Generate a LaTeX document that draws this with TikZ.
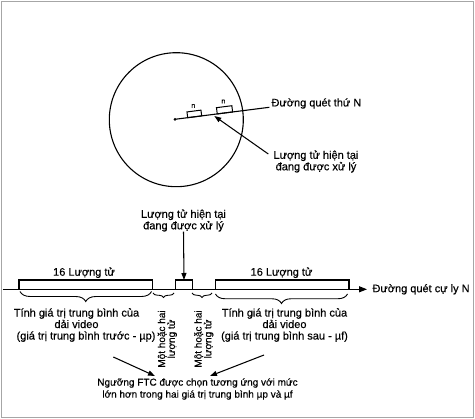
\documentclass[tikz,border=0pt]{standalone}
\usepackage{fontspec}
\setmainfont{Liberation Sans}[FakeBold=0.35]
\usetikzlibrary{arrows.meta,decorations.pathreplacing}
\begin{document}
\begin{tikzpicture}[x=1pt,y=-1pt,
  every node/.style={inner sep=0pt, outer sep=0pt},
  lbl/.style={font=\fontsize{11}{11.5}\selectfont, align=center},
  vlbl/.style={font=\fontsize{10}{9.8}\selectfont, align=center, rotate=90},
  qbox/.style={draw, line width=1.1pt, minimum height=9.3pt, inner sep=0pt},
  arr/.style={line width=1.05pt, -{Triangle[length=7pt,width=5pt]}},
  brc/.style={line width=0.9pt, decorate, decoration={brace, mirror, amplitude=#1}},
  line width=1.1pt]
\useasboundingbox (0,0) rectangle (475,419);
\draw[gray!70, line width=1.2pt] (1.5,1.5) rectangle (473.8,417.8);

% --- circle part ---
\coordinate (cc) at (176.3,119.7);
\draw (cc) circle[radius=67pt];
\coordinate (s0) at (175,119.3);
\coordinate (s1) at (269.3,107.3);
\fill (s0) circle[radius=1.5pt];
\draw (s0) -- (s1);
\node[lbl, anchor=west] (scanlbl) at (271.5,103.5) {Đường quét thứ N};
\begin{scope}[shift={(s0)}, rotate=7.25]
  \draw[line width=1pt] (12.8,0) rectangle (26.9,-5.8);
  \node[font=\fontsize{7}{7}\selectfont] (n1) at (19.8,-11) {n};
  \draw[line width=1pt] (42.6,0) rectangle (58.1,-6.3);
  \node[font=\fontsize{7}{7}\selectfont] (n2) at (50.3,-11.5) {n};
\end{scope}
\coordinate (t1) at (214.3,116);
\coordinate (t1s) at (268.3,154);
\node[lbl] (cur1) at (316,161.5) {Lượng tử hiện tại\\đang được xử lý};
\draw[arr] (t1s) -- (t1);

% --- scan line part ---
\node[lbl] (cur2) at (183.5,220.5) {Lượng tử hiện tại\\đang được xử lý};
\coordinate (m0) at (2.5,289.3);
\coordinate (m1) at (367,289.3);
\draw[line width=1.1pt, -{Triangle[length=8pt,width=6pt]}] (m0) -- (m1);
\node[lbl, anchor=west] (axis) at (372.5,289.3) {Đường quét cự ly N};

\node[qbox, minimum width=133.3pt] (boxA) at (85.65,284.65) {};
\node[qbox, minimum width=16.6pt] (boxB) at (184,284.65) {};
\node[qbox, minimum width=133.5pt] (boxC) at (282.25,284.65) {};
\draw[arr] (cur2.south) -- (boxB.north);

\node[lbl] (qA) at (84,272.7) {16 Lượng tử};
\node[lbl] (qC) at (281.5,272.7) {16 Lượng tử};

\coordinate (bA0) at (20,291.5);
\coordinate (bA1) at (151.5,291.5);
\draw[brc=10pt] (bA0) -- (bA1);
\coordinate (b10) at (153,293);
\coordinate (b11) at (174,293);
\draw[brc=4.5pt] (b10) -- (b11);
\coordinate (b20) at (192,293);
\coordinate (b21) at (212,293);
\draw[brc=4.5pt] (b20) -- (b21);
\coordinate (bC0) at (215.5,294);
\coordinate (bC1) at (347.5,294);
\draw[brc=9.5pt] (bC0) -- (bC1);

\node[lbl] (avgP) at (76.5,325) {Tính giá trị trung bình của\\dải video\\\hspace*{19pt}(giá trị trung bình trước - µp)};
\node[lbl] (avgF) at (284.5,325) {Tính giá trị trung bình của\\dải video\\(giá trị trung bình sau - µf)};

\node[vlbl] (v1) at (167.3,339) {Một hoặc hai\\lượng tử};
\node[vlbl] (v2) at (203.8,339) {Một hoặc hai\\lượng tử};

% --- bottom ---
\node[font=\fontsize{10}{12}\selectfont, align=center] (ftc) at (197.5,389) {Ngưỡng FTC được chọn tương ứng với mức\\lớn hơn trong hai giá trị trung bình µp và µf};
\coordinate (la0) at (113.3,357);
\coordinate (la1) at (155,376);
\coordinate (ra0) at (264,355);
\coordinate (ra1) at (210,376);
\draw[arr] (la0) -- (la1);
\draw[arr] (ra0) -- (ra1);
\end{tikzpicture}
\end{document}
